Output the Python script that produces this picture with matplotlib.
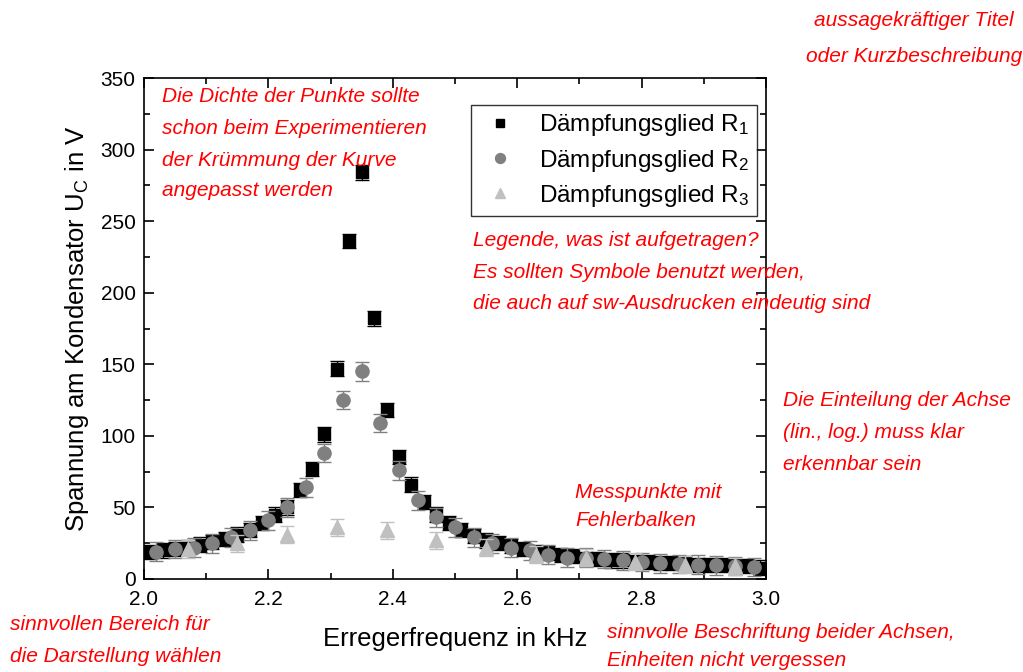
import matplotlib
matplotlib.use('Agg')
import matplotlib.pyplot as plt
import numpy as np
from matplotlib.ticker import MultipleLocator

plt.rcParams['font.family'] = ['Liberation Sans', 'DejaVu Sans']
plt.rcParams['mathtext.default'] = 'regular'

# Dämpfungsglied R1 (schwarze Quadrate)
f_r1 = [2.01, 2.03, 2.05, 2.07, 2.09, 2.11, 2.13, 2.15, 2.17, 2.19,
        2.21, 2.23, 2.25, 2.27, 2.29, 2.31, 2.33, 2.35, 2.37, 2.39,
        2.41, 2.43, 2.45, 2.47, 2.49, 2.51, 2.53, 2.55, 2.57, 2.59,
        2.61, 2.63, 2.65, 2.67, 2.69, 2.71, 2.73, 2.75, 2.77, 2.79,
        2.81, 2.83, 2.85, 2.87, 2.89, 2.91, 2.93, 2.95, 2.97, 2.99]
u_r1 = [19, 20, 21, 22, 24, 26, 28, 31, 34, 39,
        45, 50, 62, 77, 101, 147, 236, 284, 182, 118,
        85, 66, 54, 45, 39, 34, 30, 27, 25, 23,
        21, 19, 18, 17, 16, 14, 14, 13, 13, 12,
        12, 11, 11, 11, 10, 10, 10, 9, 9, 8]
err_r1 = 5

# Dämpfungsglied R2 (graue Kreise)
f_r2 = [2.02, 2.05, 2.08, 2.11, 2.14, 2.17, 2.20, 2.23, 2.26, 2.29,
        2.32, 2.35, 2.38, 2.41, 2.44, 2.47, 2.50, 2.53, 2.56, 2.59,
        2.62, 2.65, 2.68, 2.71, 2.74, 2.77, 2.80, 2.83, 2.86, 2.89,
        2.92, 2.95, 2.98]
u_r2 = [19, 21, 22, 25, 29, 34, 41, 50, 64, 88,
        125, 145, 109, 76, 55, 43, 36, 29, 25, 22,
        20, 17, 15, 15, 14, 13, 12, 11, 10.5, 10,
        9.5, 9, 8.5]
err_r2 = 6.5

# Dämpfungsglied R3 (hellgraue Dreiecke)
f_r3 = [2.07, 2.15, 2.23, 2.31, 2.39, 2.47, 2.55, 2.63, 2.71, 2.79, 2.87, 2.95]
u_r3 = [21, 25, 31, 36, 34, 27, 22, 17, 15, 12, 10, 9]
err_r3 = 6

labels = ['Dämpfungsglied R$_1$', 'Dämpfungsglied R$_2$', 'Dämpfungsglied R$_3$']

# rote Hinweise: (Zeilen, x, y je Zeile in px, Ausrichtung)
hints = [
    (['aussagekräftiger Titel', 'oder Kurzbeschreibung'], 914, [20, 57], 'center'),
    (['Die Dichte der Punkte sollte', 'schon beim Experimentieren',
      'der Krümmung der Kurve', 'angepasst werden'], 162, [97, 129, 160, 190], 'left'),
    (['Legende, was ist aufgetragen?', 'Es sollten Symbole benutzt werden,',
      'die auch auf sw-Ausdrucken eindeutig sind'], 473, [241, 272, 303], 'left'),
    (['Die Einteilung der Achse', '(lin., log.) muss klar', 'erkennbar sein'], 783, [400, 433, 464], 'left'),
    (['Messpunkte mit', 'Fehlerbalken'], 575, [492, 521], 'left'),
    (['sinnvollen Bereich für', 'die Darstellung wählen'], 10, [625, 657], 'left'),
    (['sinnvolle Beschriftung beider Achsen,', 'Einheiten nicht vergessen'], 607, [632, 661], 'left'),
]

W, H = 1023, 672
fig = plt.figure(figsize=(W / 100, H / 100), dpi=100)
ax = fig.add_axes([144 / W, 1 - 579 / H, 622 / W, 501 / H])

ax.errorbar(f_r1, u_r1, yerr=err_r1, fmt='none', ecolor='black', elinewidth=1, capsize=5, capthick=1, zorder=2)
ax.plot(f_r1, u_r1, 's', color='black', ms=8.5, zorder=3, label=labels[0])
ax.errorbar(f_r2, u_r2, yerr=err_r2, fmt='none', ecolor='#808080', elinewidth=1, capsize=5, capthick=1, zorder=4)
ax.plot(f_r2, u_r2, 'o', color='#808080', ms=9.5, zorder=5, label=labels[1])
ax.errorbar(f_r3, u_r3, yerr=err_r3, fmt='none', ecolor='#c0c0c0', elinewidth=1, capsize=5, capthick=1, zorder=6)
ax.plot(f_r3, u_r3, '^', color='#c0c0c0', ms=10, zorder=7, label=labels[2])

ax.set_xlim(2.0, 3.0)
ax.set_ylim(0, 350)
ax.xaxis.set_major_locator(MultipleLocator(0.2))
ax.xaxis.set_minor_locator(MultipleLocator(0.1))
ax.yaxis.set_major_locator(MultipleLocator(50))
ax.yaxis.set_minor_locator(MultipleLocator(25))
ax.xaxis.set_major_formatter(plt.FuncFormatter(lambda v, p: '%.1f' % v))
ax.tick_params(which='both', direction='in', top=True, right=True, labelsize=15, width=1.2)
ax.tick_params(which='major', length=7)
ax.tick_params(which='minor', length=4)
ax.tick_params(axis='x', pad=8)
ax.tick_params(axis='y', pad=6)
for s in ax.spines.values():
    s.set_linewidth(1.2)

ax.set_xlabel('Erregerfrequenz in kHz', fontsize=18.5, labelpad=13)
ax.set_ylabel('Spannung am Kondensator U$_C$ in V', fontsize=18.5, labelpad=7)

leg = ax.legend(loc='upper right', bbox_to_anchor=(0.9855, 0.946), fontsize=17.5, frameon=True,
                fancybox=False, edgecolor='black', markerscale=0.75, handlelength=1.8,
                borderpad=0.3, labelspacing=0.38, handletextpad=0.7, borderaxespad=0)
leg.get_frame().set_linewidth(1)

for lines, x, ys, ha in hints:
    for line, y in zip(lines, ys):
        fig.text(x / W, 1 - y / H, line, ha=ha, va='center', color='red', style='italic', fontsize=15)

fig.savefig('out.png', dpi=100)
